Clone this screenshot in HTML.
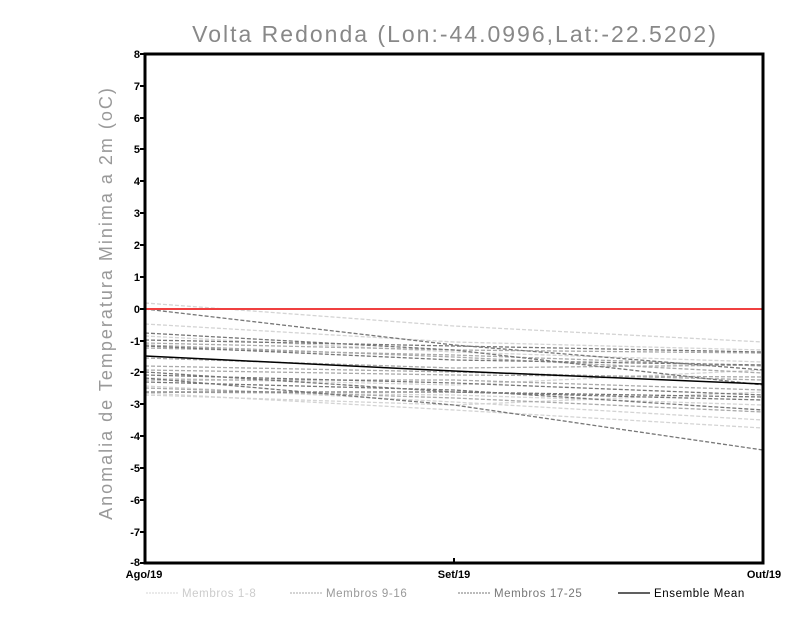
<!DOCTYPE html>
<html><head><style>body{margin:0;background:#fff}</style></head><body>
<svg width="800" height="618" xmlns="http://www.w3.org/2000/svg" font-family="Liberation Sans, sans-serif">
<rect width="800" height="618" fill="#fff"/>
<text x="455" y="42" text-anchor="middle" font-size="23" fill="#888" letter-spacing="2" font-weight="300">Volta Redonda (Lon:-44.0996,Lat:-22.5202)</text>
<text transform="translate(112,303) rotate(-90)" text-anchor="middle" font-size="18" fill="#999" letter-spacing="2">Anomalia de Temperatura Minima a 2m (oC)</text>
<g fill="none" stroke-width="1.3" stroke-dasharray="4,2">
<g stroke="#d4d4d4">
<polyline points="145,303 454,326 763,342"/>
<polyline points="145,324 454,342 763,350"/>
<polyline points="145,336 454,352 763,362"/>
<polyline points="145,386 454,402 763,420"/>
<polyline points="145,392 454,395 763,405"/>
<polyline points="145,393 454,410 763,428"/>
<polyline points="145,378 454,385 763,370"/>
<polyline points="145,395 454,405 763,392"/>
</g>
<g stroke="#aaa">
<polyline points="145,343 454,350 763,353"/>
<polyline points="145,348 454,355 763,366"/>
<polyline points="145,366 454,372 763,380"/>
<polyline points="145,370 454,375 763,377"/>
<polyline points="145,380 454,380 763,390"/>
<polyline points="145,388 454,398 763,412"/>
<polyline points="145,345 454,357 763,373"/>
<polyline points="145,358 454,368 763,365"/>
</g>
<g stroke="#777">
<polyline points="145,309 454,345 763,370"/>
<polyline points="145,333 454,350 763,385"/>
<polyline points="145,340 454,346 763,352"/>
<polyline points="145,346 454,360 763,365"/>
<polyline points="145,372 454,392 763,400"/>
<polyline points="145,375 454,383 763,395"/>
<polyline points="145,378 454,405 763,450"/>
<polyline points="145,382 454,390 763,410"/>
<polyline points="145,392 454,392 763,397"/>
</g>
</g>
<polyline points="145,356 454,371 763,384" fill="none" stroke="#000" stroke-width="1.5"/>
<line x1="145" y1="309" x2="763" y2="309" stroke="#f04040" stroke-width="2"/>
<rect x="145" y="54" width="618" height="509" fill="none" stroke="#000" stroke-width="3"/>
<g stroke="#000" stroke-width="2">
<line x1="140" y1="54" x2="145" y2="54"/><line x1="140" y1="86" x2="145" y2="86"/><line x1="140" y1="118" x2="145" y2="118"/><line x1="140" y1="149" x2="145" y2="149"/><line x1="140" y1="181" x2="145" y2="181"/><line x1="140" y1="213" x2="145" y2="213"/><line x1="140" y1="245" x2="145" y2="245"/><line x1="140" y1="277" x2="145" y2="277"/><line x1="140" y1="309" x2="145" y2="309"/><line x1="140" y1="341" x2="145" y2="341"/><line x1="140" y1="372" x2="145" y2="372"/><line x1="140" y1="404" x2="145" y2="404"/><line x1="140" y1="436" x2="145" y2="436"/><line x1="140" y1="468" x2="145" y2="468"/><line x1="140" y1="500" x2="145" y2="500"/><line x1="140" y1="532" x2="145" y2="532"/><line x1="140" y1="563" x2="145" y2="563"/>
<line x1="454" y1="558" x2="454" y2="563"/>
</g>
<g font-size="11" font-weight="bold" text-anchor="end" fill="#000">
<text x="140" y="58">8</text><text x="140" y="90">7</text><text x="140" y="122">6</text><text x="140" y="153">5</text><text x="140" y="185">4</text><text x="140" y="217">3</text><text x="140" y="249">2</text><text x="140" y="281">1</text><text x="140" y="313">0</text><text x="140" y="345">-1</text><text x="140" y="376">-2</text><text x="140" y="408">-3</text><text x="140" y="440">-4</text><text x="140" y="472">-5</text><text x="140" y="504">-6</text><text x="140" y="536">-7</text><text x="140" y="566">-8</text>
</g>
<g font-size="11" font-weight="bold" text-anchor="middle">
<text x="144" y="578">Ago/19</text><text x="454" y="578">Set/19</text><text x="764" y="578">Out/19</text>
</g>
<g font-size="11.5" letter-spacing="0.6">
<line x1="146" y1="593" x2="178" y2="593" stroke="#d4d4d4" stroke-dasharray="2,1"/>
<text x="182" y="597" fill="#ccc">Membros 1-8</text>
<line x1="290" y1="593" x2="322" y2="593" stroke="#aaa" stroke-dasharray="2,1"/>
<text x="326" y="597" fill="#999">Membros 9-16</text>
<line x1="458" y1="593" x2="490" y2="593" stroke="#777" stroke-dasharray="2,1"/>
<text x="494" y="597" fill="#777">Membros 17-25</text>
<line x1="618" y1="593" x2="650" y2="593" stroke="#000" stroke-width="1.2"/>
<text x="654" y="597" fill="#000">Ensemble Mean</text>
</g>
</svg>
</body></html>
